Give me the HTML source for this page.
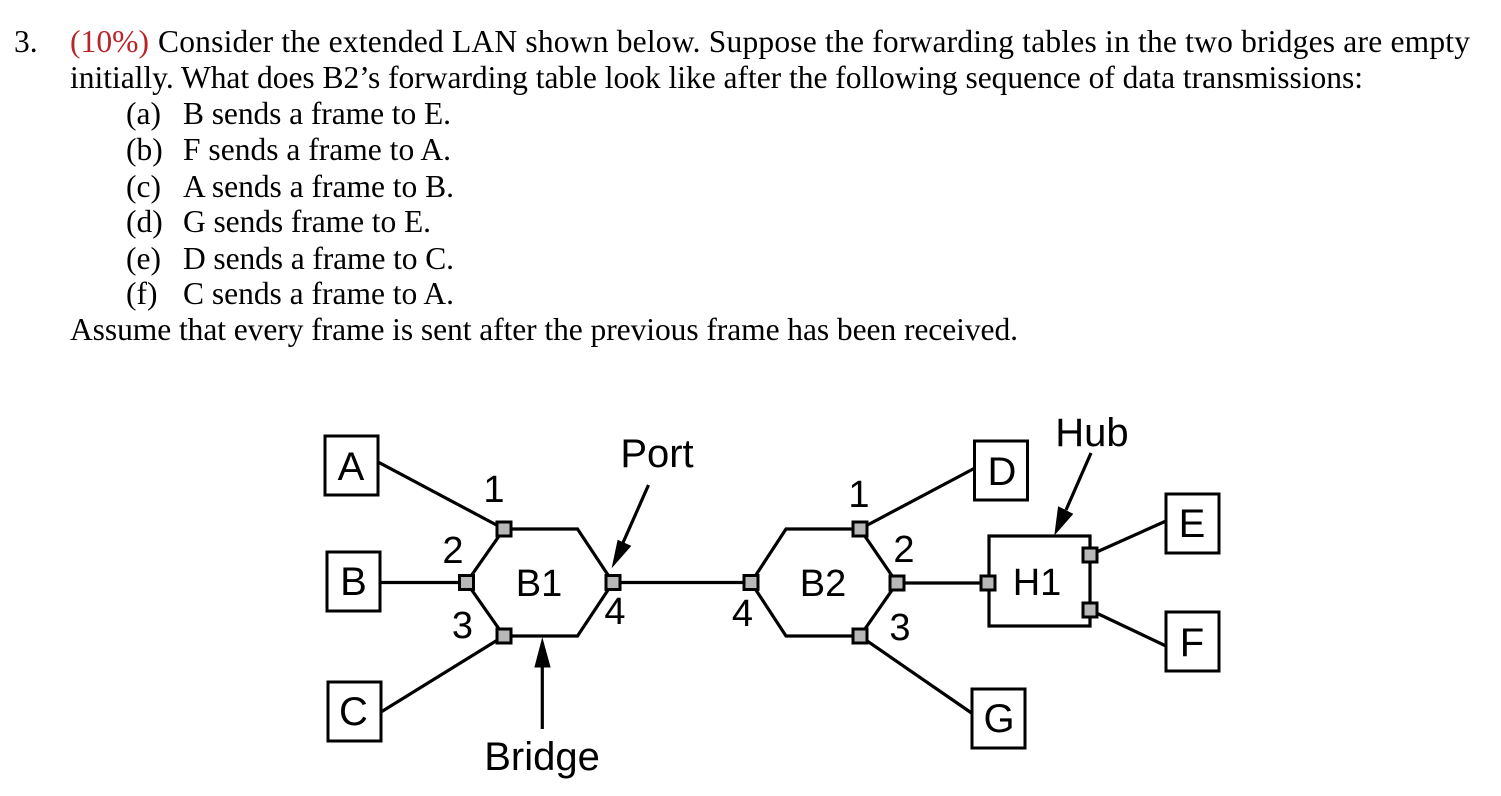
<!DOCTYPE html>
<html><head><meta charset="utf-8"><style>
html,body{margin:0;padding:0;background:#fff;width:1501px;height:796px;overflow:hidden}
svg{display:block}
.t{font-family:"Liberation Serif",serif;font-size:31.5px;fill:#000}
.d{font-family:"Liberation Sans",sans-serif;font-size:40px;fill:#000}
.s{font-family:"Liberation Sans",sans-serif;font-size:38px;fill:#000}
.l{stroke:#000;stroke-width:3.2;fill:none}
.n{stroke:#000;stroke-width:3;fill:#fff}
.p{stroke:#000;stroke-width:3;fill:#b8b8b8}
</style></head><body>
<svg width="1501" height="796" viewBox="0 0 1501 796" xmlns="http://www.w3.org/2000/svg">
<text class="t" x="14" y="52">3.</text>
<text class="t" x="70" y="52" style="fill:#b8242a" textLength="79" lengthAdjust="spacingAndGlyphs">(10%)</text>
<text class="t" x="158" y="52" textLength="1312" lengthAdjust="spacing">Consider the extended LAN shown below. Suppose the forwarding tables in the two bridges are empty</text>
<text class="t" x="70" y="88" textLength="1293" lengthAdjust="spacing">initially. What does B2’s forwarding table look like after the following sequence of data transmissions:</text>
<text class="t" x="126" y="124">(a)</text><text class="t" x="183" y="124" textLength="268" lengthAdjust="spacing">B sends a frame to E.</text>
<text class="t" x="126" y="160">(b)</text><text class="t" x="183" y="160" textLength="268" lengthAdjust="spacing">F sends a frame to A.</text>
<text class="t" x="126" y="197">(c)</text><text class="t" x="183" y="197" textLength="271" lengthAdjust="spacing">A sends a frame to B.</text>
<text class="t" x="126" y="232">(d)</text><text class="t" x="183" y="232" textLength="248" lengthAdjust="spacing">G sends frame to E.</text>
<text class="t" x="126" y="269">(e)</text><text class="t" x="183" y="269" textLength="271" lengthAdjust="spacing">D sends a frame to C.</text>
<text class="t" x="126" y="304">(f)</text><text class="t" x="183" y="304" textLength="271" lengthAdjust="spacing">C sends a frame to A.</text>
<text class="t" x="70" y="340" textLength="948" lengthAdjust="spacing">Assume that every frame is sent after the previous frame has been received.</text>

<!-- links -->
<path class="l" d="M378 462L504 529M380 582.5H466M381 712L504 636M613 582.5H751M860 529L975 468M860 636L973 714M897 583H988M1090 555L1166 521M1090 610L1166 646"/>
<!-- bridges -->
<path class="l" d="M504 529H577.5L613 582.5L577.5 636H504L466.5 582.5Z"/>
<path class="l" d="M786 529H860L897 583L860 636H786L751 582.5Z"/>
<rect class="l" x="989" y="536" width="101" height="90"/>
<!-- nodes -->
<rect class="n" x="325" y="436" width="53" height="59"/>
<rect class="n" x="327" y="552" width="53" height="59"/>
<rect class="n" x="328" y="682" width="53" height="59"/>
<rect class="n" x="974.5" y="441" width="53" height="59"/>
<rect class="n" x="1166" y="494" width="53" height="59"/>
<rect class="n" x="1166" y="612" width="53" height="59"/>
<rect class="n" x="972" y="689" width="53" height="59"/>
<!-- ports -->
<rect class="p" x="497" y="522" width="14" height="14"/>
<rect class="p" x="459.5" y="575.5" width="14" height="14"/>
<rect class="p" x="497" y="629" width="14" height="14"/>
<rect class="p" x="606" y="575.5" width="14" height="14"/>
<rect class="p" x="744" y="575.5" width="14" height="14"/>
<rect class="p" x="853" y="522" width="14" height="14"/>
<rect class="p" x="890" y="576" width="14" height="14"/>
<rect class="p" x="853" y="629" width="14" height="14"/>
<rect class="p" x="981" y="576" width="14" height="14"/>
<rect class="p" x="1083" y="548" width="14" height="14"/>
<rect class="p" x="1083" y="603" width="14" height="14"/>
<!-- arrows -->
<path class="l" d="M648.5 485L622 545M1091 453L1066 510M542.3 729V660"/>
<path d="M612.5 566.5L630.5 546L618 540.5Z" fill="#000" stroke="#000"/>
<path d="M1055 534L1072.5 514L1058.5 507Z" fill="#000" stroke="#000"/>
<path d="M542.3 639L550 667H535Z" fill="#000" stroke="#000"/>
<!-- labels -->
<text class="d" x="351" y="480" text-anchor="middle">A</text>
<text class="d" x="353.5" y="595" text-anchor="middle">B</text>
<text class="d" x="353.5" y="725" text-anchor="middle">C</text>
<text class="d" x="1002" y="485" text-anchor="middle">D</text>
<text class="d" x="1192" y="537" text-anchor="middle">E</text>
<text class="d" x="1192" y="656" text-anchor="middle">F</text>
<text class="d" x="999" y="732" text-anchor="middle">G</text>
<text class="s" x="539" y="596" text-anchor="middle">B1</text>
<text class="s" x="823" y="596" text-anchor="middle">B2</text>
<text class="s" x="1037" y="595" text-anchor="middle">H1</text>
<text class="d" x="657" y="467" text-anchor="middle">Port</text>
<text class="d" x="1092" y="446" text-anchor="middle">Hub</text>
<text class="d" x="542" y="770" text-anchor="middle">Bridge</text>
<text class="s" x="494" y="502" text-anchor="middle">1</text>
<text class="s" x="453" y="563" text-anchor="middle">2</text>
<text class="s" x="462.5" y="638" text-anchor="middle">3</text>
<text class="s" x="615" y="624" text-anchor="middle">4</text>
<text class="s" x="742.5" y="626" text-anchor="middle">4</text>
<text class="s" x="859" y="507" text-anchor="middle">1</text>
<text class="s" x="904" y="562" text-anchor="middle">2</text>
<text class="s" x="900" y="640" text-anchor="middle">3</text>
</svg>
</body></html>
